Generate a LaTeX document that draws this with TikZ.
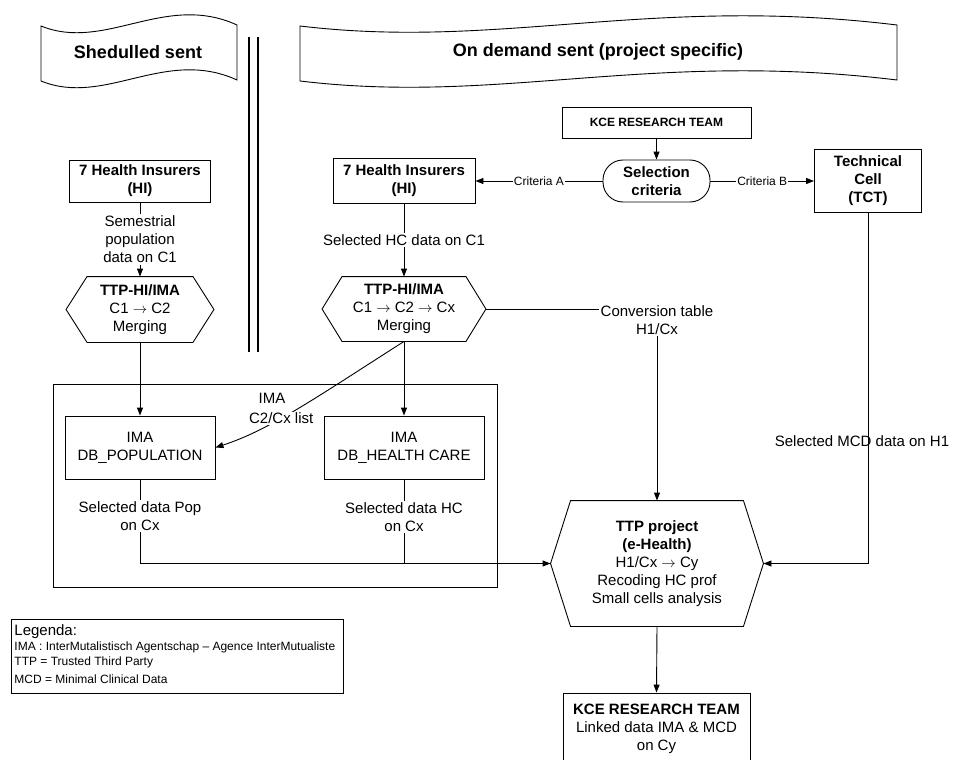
\documentclass[tikz,border=0pt]{standalone}
\usepackage{fontspec}
\setmainfont{Liberation Sans}
\usetikzlibrary{arrows.meta,calc}
\newcommand{\fmain}{\fontsize{15}{18}\selectfont}
\newcommand{\fsmall}{\fontsize{12}{14}\selectfont}
\newcommand{\fbig}{\fontsize{18}{21}\selectfont}
\newcommand{\hexoutline}[2]{\draw ($(#1.north west)+(#2,0)$) -- ($(#1.north east)+(-#2,0)$) -- (#1.east) -- ($(#1.south east)+(-#2,0)$) -- ($(#1.south west)+(#2,0)$) -- (#1.west) -- cycle;}
\begin{document}
\begin{tikzpicture}[x=1pt,y=-1pt,line width=0.9pt,
  box/.style={draw, rectangle, inner sep=0pt, align=center, font=\fmain},
  hexn/.style={inner sep=0pt, align=center, font=\fmain},
  lab/.style={fill=white, inner sep=1.5pt, align=center, font=\fmain},
  slab/.style={fill=white, inner sep=1pt, font=\fsmall},
  legtext/.style={anchor=west, inner sep=0pt, font=\fsmall},
  arr/.style={-{Triangle[length=8pt,width=6pt]}}]
\useasboundingbox (0,0) rectangle (954,760);

% banners
\draw (41,26) .. controls (105,52) and (165,-8) .. (237,25) -- (237,80) .. controls (165,47) and (105,107) .. (41,81) -- cycle;
\node[font=\fbig\bfseries] (b1) at (138,52) {Shedulled sent};
\draw (300,26) .. controls (500,50) and (650,-5) .. (897,25) -- (897,80) .. controls (650,50) and (500,105) .. (300,81) -- cycle;
\node[font=\fbig\bfseries] (b2) at (598,52) {On demand sent (project specific)};

% separator
\draw[line width=1.2pt] (249,37) -- (249,352);
\draw[line width=1.2pt] (258,37) -- (258,352);

% nodes
\node[box, minimum width=141pt, minimum height=42pt] (lhi) at (140,181) {\textbf{7 Health Insurers}\\\textbf{(HI)}};
\node[box, minimum width=142pt, minimum height=45pt] (mhi) at (404,181) {\textbf{7 Health Insurers}\\\textbf{(HI)}};
\node[box, minimum width=189pt, minimum height=31pt, font=\fsmall\bfseries] (kce1) at (656.5,122.5) {KCE RESEARCH TEAM};
\node[box, rounded corners=20pt, minimum width=107pt, minimum height=42pt, font=\fmain\bfseries] (sel) at (656.5,181) {Selection\\criteria};
\node[box, minimum width=107pt, minimum height=63pt, font=\fmain\bfseries] (tct) at (868,181) {Technical\\Cell\\(TCT)};
\node[hexn, minimum width=147pt, minimum height=65pt] (lhex) at (140,309.5) {\textbf{TTP-HI/IMA}\\C1 $\rightarrow$ C2\\Merging};
\hexoutline{lhex}{21}
\node[hexn, minimum width=163pt, minimum height=64pt] (mhex) at (404,309) {\textbf{TTP-HI/IMA}\\C1 $\rightarrow$ C2 $\rightarrow$ Cx\\Merging};
\hexoutline{mhex}{20}
\node[draw, minimum width=444pt, minimum height=203pt, inner sep=0pt] (imabox) at (275,485.5) {};
\node[font=\fmain] (imalab) at (272,398) {IMA};
\node[box, minimum width=150pt, minimum height=63pt] (pop) at (140,447.5) {IMA\\DB\_POPULATION};
\node[box, minimum width=160pt, minimum height=63pt] (hcb) at (404,447.5) {IMA\\DB\_HEALTH CARE};
\node[hexn, minimum width=212pt, minimum height=125pt] (ttp) at (657,563.5) {\textbf{TTP project}\\\textbf{(e-Health)}\\H1/Cx $\rightarrow$ Cy\\Recoding HC prof\\Small cells analysis};
\hexoutline{ttp}{20}
\node[box, minimum width=187pt, minimum height=71pt] (kce2) at (656.5,728.5) {\textbf{KCE RESEARCH TEAM}\\Linked data IMA \& MCD\\on Cy};

% legend
\node[draw, minimum width=332pt, minimum height=74pt, inner sep=0pt] (legend) at (177,656) {};
\node[legtext, font=\fmain] (lg0) at (14,632) {Legenda:};
\node[legtext] (lg1) at (14,647) {IMA : InterMutalistisch Agentschap – Agence InterMutualiste};
\node[legtext] (lg2) at (14,662) {TTP = Trusted Third Party};
\node[legtext] (lg3) at (14,679) {MCD = Minimal Clinical Data};

% connectors
\draw[arr] (lhi.south) -- node[lab]{Semestrial\\population\\data on C1} (lhex.north);
\draw[arr] (mhi.south) -- node[lab]{Selected HC data on C1} (mhex.north);
\draw[arr] (kce1.south) -- (sel.north);
\draw[arr] (sel.west) -- node[slab]{Criteria A} (mhi.east);
\draw[arr] (sel.east) -- node[slab]{Criteria B} (tct.west);
\draw[arr] (mhex.east) -| node[pos=0.5, lab, yshift=-11pt]{Conversion table\\H1/Cx} (ttp.north);
\draw[arr] (tct.south) |- (ttp.east);
\node[font=\fmain] (mcdlab) at (862,441) {Selected MCD data on H1};
\draw[arr] (lhex.south) -- (pop.north);
\draw[arr] (mhex.south) -- (hcb.north);
\draw[arr] (mhex.south) .. controls (320,395) and (270,430) .. node[pos=0.6, lab, inner sep=1pt]{C2/Cx list} (pop.east);
\draw[arr] (pop.south) |- node[pos=0.22, lab]{Selected data Pop\\on Cx} (ttp.west);
\draw (hcb.south) -- node[lab, pos=0.45]{Selected data HC\\on Cx} (hcb.south |- ttp.west);
\draw[arr] (ttp.south) -- (kce2.north);
\end{tikzpicture}
\end{document}
